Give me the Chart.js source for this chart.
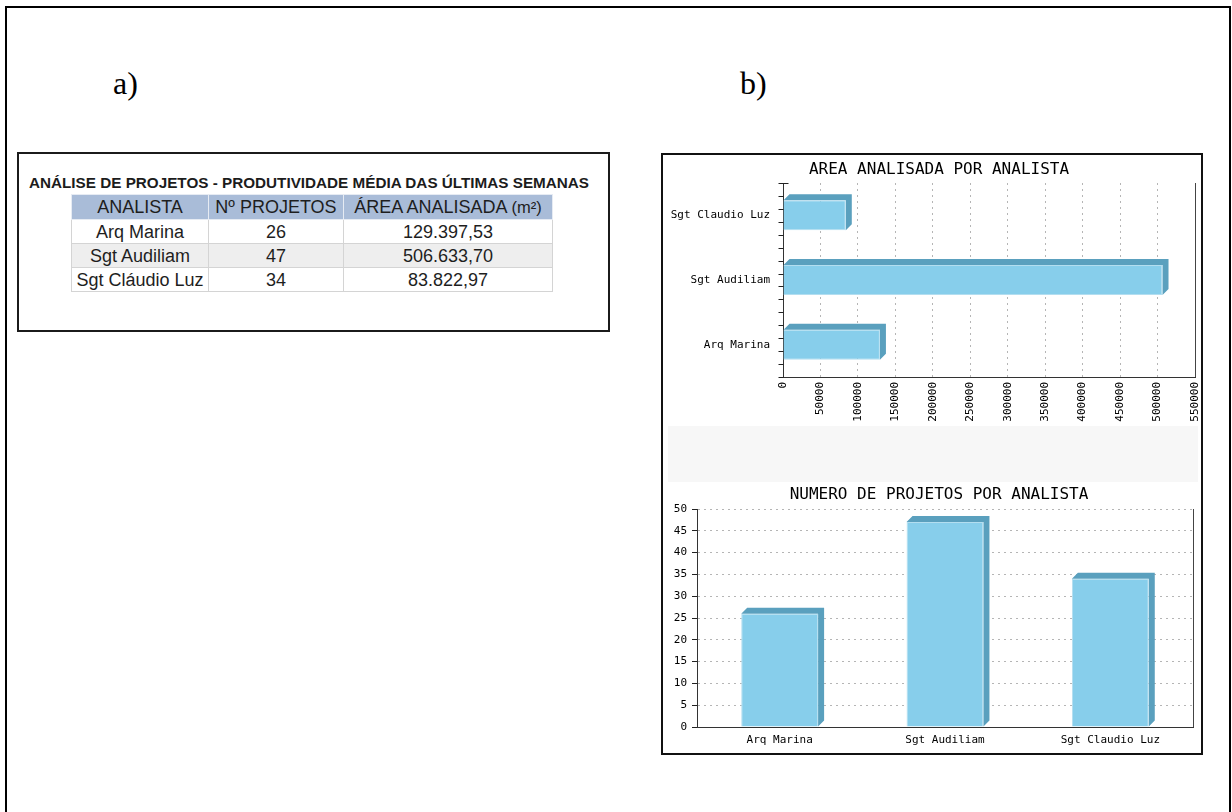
<!DOCTYPE html>
<html>
<head>
<meta charset="utf-8">
<script src="https://cdn.jsdelivr.net/npm/chart.js@4.4.1/dist/chart.umd.min.js"></script>
<style>
  html, body { margin: 0; padding: 0; background: #fff; }
  body { width: 1232px; height: 812px; position: relative; overflow: hidden; font-family: "Liberation Sans", Arial, sans-serif; }
  .frame { position: absolute; left: 5px; top: 6px; width: 1222px; height: 830px; border: 2px solid #000; border-bottom: none; }
  .tag { position: absolute; font-family: "Liberation Serif", "Times New Roman", serif; font-size: 32px; line-height: 32px; color: #000; }
  .tablebox { position: absolute; left: 17px; top: 152px; width: 593px; height: 180px; box-sizing: border-box; border: 2px solid #1b1b1b; background: #fff; }
  .tabletitle { position: absolute; left: 10px; top: 21px; font-weight: bold; font-size: 15px; line-height: 16px; color: #1c1c1c; white-space: nowrap; transform-origin: 0 0; }
  table.prod { position: absolute; left: 52px; top: 40px; border-collapse: collapse; color: #1e1e1e; font-size: 18px; }
  table.prod th, table.prod td { border: 1px solid #d4d4d4; padding: 0; text-align: center; font-weight: normal; line-height: 20px; }
  table.prod th { background: #a9bcd8; height: 24px; border-color: #e6ebf3; }
  table.prod td { height: 23px; }
  table.prod tr.alt td { background: #eeeeee; }
  table.prod small { font-size: 16.5px; }
  .panel { position: absolute; left: 661px; top: 153px; width: 542px; height: 602px; box-sizing: border-box; border: 2px solid #111; background: #fff; }
  .band { position: absolute; left: 668px; top: 426px; width: 530px; height: 56px; background: #f7f7f7; }
  canvas.chart { position: absolute; background: transparent; }
</style>
</head>
<body>
<div class="frame"></div>
<div class="tag" style="left:113px; top:67px;">a)</div>
<div class="tag" style="left:740px; top:67px;">b)</div>

<div class="tablebox">
  <div class="tabletitle" id="tableTitle"></div>
  <table class="prod" id="prodTable"></table>
</div>

<div class="panel"></div>
<div class="band"></div>
<canvas class="chart" id="areaChart" width="542" height="271" style="left:668px; top:155px;"></canvas>
<canvas class="chart" id="projChart" width="542" height="271" style="left:668px; top:482px;"></canvas>

<script>
// Analysts and their figures
const analysts = ['Arq Marina', 'Sgt Audiliam', 'Sgt Claudio Luz'];
const analystNames = ['Arq Marina', 'Sgt Audiliam', 'Sgt Cláudio Luz'];
const projectCounts = [26, 47, 34];
const areaValues = [129397.53, 506633.70, 83822.97];

// Table texts
const tableTitle = 'ANÁLISE DE PROJETOS - PRODUTIVIDADE MÉDIA DAS ÚLTIMAS SEMANAS';
const tableHeaders = ['ANALISTA', 'Nº PROJETOS', 'ÁREA ANALISADA <small>(m²)</small>'];
const columnWidths = [136, 134, 208];

// Chart texts and scale ticks
const areaTitle = 'AREA ANALISADA POR ANALISTA';
const projTitle = 'NUMERO DE PROJETOS POR ANALISTA';
const areaTickMax = 550000, areaTickStep = 50000;
const projTickMax = 50, projTickStep = 5;

const FRONT = '#87ceeb';
const SIDE = '#5aa0be';
const MONO = '"DejaVu Sans Mono", "Liberation Mono", monospace';

// Brazilian number format: 129.397,53
function fmtBR(v) {
  const [i, d] = v.toFixed(2).split('.');
  return i.replace(/\B(?=(\d{3})+(?!\d))/g, '.') + ',' + d;
}

// ---- table ----
const titleEl = document.getElementById('tableTitle');
titleEl.textContent = tableTitle;
const tbl = document.getElementById('prodTable');
let html = '<tr>' + tableHeaders.map((h, i) => `<th style="width:${columnWidths[i]}px">${h}</th>`).join('') + '</tr>';
analystNames.forEach((n, i) => {
  html += `<tr class="${i % 2 ? 'alt' : ''}"><td>${n}</td><td>${projectCounts[i]}</td><td>${fmtBR(areaValues[i])}</td></tr>`;
});
tbl.innerHTML = html;
const tw = titleEl.getBoundingClientRect().width;
titleEl.style.transform = `scaleX(${560 / tw})`;

// ---- 3D bar depth, drawn behind each bar from the bar element geometry ----
const bar3d = {
  id: 'bar3d',
  beforeDatasetsDraw(chart, args, opts) {
    const ctx = chart.ctx;
    const d = opts.depth || 6;
    const horizontal = chart.options.indexAxis === 'y';
    chart.getDatasetMeta(0).data.forEach(bar => {
      const p = bar.getProps(['x', 'y', 'base', 'width', 'height'], true);
      ctx.save();
      ctx.fillStyle = opts.color || SIDE;
      ctx.beginPath();
      if (horizontal) {
        const top = p.y - p.height / 2, bot = p.y + p.height / 2;
        ctx.moveTo(p.base, top);
        ctx.lineTo(p.base + d, top - d);
        ctx.lineTo(p.x + d, top - d);
        ctx.lineTo(p.x + d, bot - d);
        ctx.lineTo(p.x, bot);
        ctx.lineTo(p.x, top);
      } else {
        const l = p.x - p.width / 2, r = p.x + p.width / 2;
        ctx.moveTo(l, p.y);
        ctx.lineTo(l + d, p.y - d);
        ctx.lineTo(r + d, p.y - d);
        ctx.lineTo(r + d, p.base - d);
        ctx.lineTo(r, p.base);
        ctx.lineTo(r, p.y);
      }
      ctx.closePath();
      ctx.fill();
      ctx.restore();
    });
  }
};

// ---- plot title, right frame line and minor category ticks ----
const plotFrame = {
  id: 'plotFrame',
  afterDraw(chart, args, opts) {
    const ctx = chart.ctx;
    const a = chart.chartArea;
    ctx.save();
    if (opts.title) {
      ctx.fillStyle = '#000';
      ctx.font = `16px ${MONO}`;
      ctx.textAlign = 'center';
      ctx.textBaseline = 'middle';
      ctx.fillText(opts.title, opts.titleX, opts.titleY);
    }
    ctx.strokeStyle = '#444';
    ctx.lineWidth = 1;
    ctx.beginPath();
    ctx.moveTo(Math.round(a.right) + 0.5, a.top);
    ctx.lineTo(Math.round(a.right) + 0.5, a.bottom);
    ctx.stroke();
    if (opts.minorTicks) {
      const ys = chart.scales.y;
      const n = chart.data.labels.length * opts.minorTicks;
      const step = (ys.bottom - ys.top) / n;
      const x = Math.round(ys.right) + 0.5;
      ctx.strokeStyle = '#222';
      ctx.beginPath();
      for (let i = 0; i <= n; i++) {
        const y = Math.round(ys.top + i * step) + 0.5;
        ctx.moveTo(x - 5, y);
        ctx.lineTo(i === 0 ? x + 5 : x, y);
      }
      ctx.stroke();
    }
    ctx.restore();
  }
};

function fixBox(width, height) {
  return function (scale) {
    if (width != null) scale.width = width;
    if (height != null) scale.height = height;
    scale.paddingLeft = 0;
    scale.paddingRight = 0;
    scale.paddingTop = 0;
    scale.paddingBottom = 0;
  };
}

Chart.defaults.font.family = MONO;
Chart.defaults.color = '#000';

// ---- horizontal bars: area per analyst ----
new Chart(document.getElementById('areaChart'), {
  type: 'bar',
  data: {
    labels: analysts,
    datasets: [{
      data: areaValues,
      backgroundColor: FRONT,
      borderColor: '#b3def0',
      borderWidth: 1,
      borderSkipped: 'start',
      barPercentage: 0.93,
      categoryPercentage: 0.5
    }]
  },
  options: {
    indexAxis: 'y',
    responsive: false,
    animation: false,
    devicePixelRatio: 1,
    layout: { padding: { top: 28, right: 15, bottom: 0, left: 0 } },
    plugins: {
      legend: { display: false },
      tooltip: { enabled: false },
      title: { display: false },
      bar3d: { depth: 6, color: SIDE },
      plotFrame: { minorTicks: 5, title: areaTitle, titleX: 271, titleY: 15 }
    },
    scales: {
      x: {
        min: 0, max: areaTickMax,
        ticks: { stepSize: areaTickStep, minRotation: 90, maxRotation: 90, autoSkip: false, padding: 5, color: '#000', font: { family: MONO, size: 11 }, callback: v => String(v) },
        grid: { color: c => (c.tick && c.tick.value === 0) ? 'rgba(0,0,0,0)' : '#b5b5b5', drawTicks: false },
        border: { color: '#333', dash: [2, 4] },
        afterFit: fixBox(null, 49)
      },
      y: {
        reverse: true,
        ticks: { padding: 13, color: '#000', font: { family: MONO, size: 11 } },
        grid: { display: false, drawTicks: false },
        border: { color: '#333' },
        afterFit: fixBox(115, null)
      }
    }
  },
  plugins: [bar3d, plotFrame]
});

// ---- vertical bars: projects per analyst ----
new Chart(document.getElementById('projChart'), {
  type: 'bar',
  data: {
    labels: analysts,
    datasets: [{
      data: projectCounts,
      backgroundColor: FRONT,
      borderColor: '#b3def0',
      borderWidth: 1,
      borderSkipped: 'start',
      barPercentage: 0.93,
      categoryPercentage: 0.5
    }]
  },
  options: {
    responsive: false,
    animation: false,
    devicePixelRatio: 1,
    layout: { padding: { top: 27, right: 17, bottom: 0, left: 0 } },
    plugins: {
      legend: { display: false },
      tooltip: { enabled: false },
      title: { display: false },
      bar3d: { depth: 6, color: SIDE },
      plotFrame: { title: projTitle, titleX: 271, titleY: 13 }
    },
    scales: {
      x: {
        ticks: { padding: 7, color: '#000', font: { family: MONO, size: 11 } },
        grid: { display: false, drawTicks: false },
        border: { color: '#333' },
        afterFit: fixBox(null, 26)
      },
      y: {
        min: 0, max: projTickMax,
        ticks: { stepSize: projTickStep, padding: 5, color: '#000', font: { family: MONO, size: 11 } },
        grid: { color: c => (c.tick && c.tick.value === 0) ? 'rgba(0,0,0,0)' : '#b5b5b5', tickColor: '#222', tickLength: 5 },
        border: { color: '#333', dash: [2, 4] },
        afterFit: fixBox(29, null)
      }
    }
  },
  plugins: [bar3d, plotFrame]
});
</script>
</body>
</html>
